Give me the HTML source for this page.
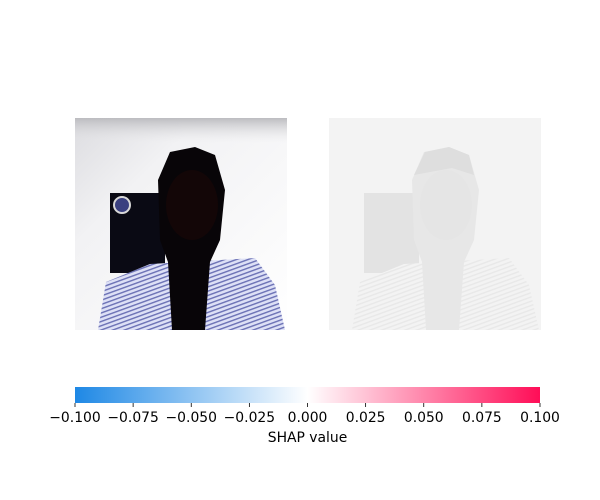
<!DOCTYPE html>
<html><head><meta charset="utf-8"><style>
body{margin:0;background:#fff;}
svg{display:block;font-family:"DejaVu Sans","Liberation Sans",sans-serif;}
</style></head><body>
<svg width="600" height="500" viewBox="0 0 600 500">
<defs>
<linearGradient id="wall" x1="0" y1="0" x2="1" y2="1">
<stop offset="0" stop-color="#dcdce0"/><stop offset="0.3" stop-color="#f2f2f4"/><stop offset="1" stop-color="#ffffff"/></linearGradient>
<linearGradient id="ceil" x1="0" y1="0" x2="0" y2="1">
<stop offset="0" stop-color="#bcbcc0"/><stop offset="1" stop-color="#e8e8ea" stop-opacity="0"/></linearGradient>
<pattern id="stripes" width="4" height="4" patternUnits="userSpaceOnUse" patternTransform="rotate(70)">
<rect width="4" height="4" fill="#dde0f6"/><rect width="1.4" height="4" fill="#6a70b4"/></pattern>
<pattern id="stripes2" width="4" height="4" patternUnits="userSpaceOnUse" patternTransform="rotate(70)">
<rect width="4" height="4" fill="#f3f3f3"/><rect width="1.4" height="4" fill="#e8e8e8"/></pattern>
<linearGradient id="cbar" x1="0" y1="0" x2="1" y2="0">
<stop offset="0" stop-color="#1E88E5"/><stop offset="0.5" stop-color="#ffffff"/><stop offset="1" stop-color="#FF0D57"/></linearGradient>
</defs>
<g>
<rect x="75" y="118" width="212" height="212" fill="url(#wall)"/>
<rect x="75" y="118" width="212" height="25" fill="url(#ceil)"/>
<rect x="110" y="193" width="55" height="80" fill="#0a0a14"/>
<circle cx="122" cy="205" r="8" fill="#3a4080" stroke="#d8d8d8" stroke-width="2"/>
<path d="M98 330 L106 282 L150 264 L255 258 L275 285 L285 330 Z" fill="url(#stripes)"/>
<path d="M172 330 L168 262 L160 240 L158 180 L170 152 L195 147 L215 155 L225 190 L220 240 L210 262 L205 330 Z" fill="#080508"/>
<ellipse cx="192" cy="205" rx="26" ry="35" fill="#130607"/>
</g>
<g>
<rect x="329" y="118" width="212" height="212" fill="#f3f3f3"/>
<rect x="364" y="193" width="55" height="80" fill="#e3e3e3"/>
<path d="M352 330 L360 282 L404 264 L509 258 L529 285 L539 330 Z" fill="url(#stripes2)"/>
<path d="M426 330 L422 262 L414 240 L412 180 L424 152 L449 147 L469 155 L479 190 L474 240 L464 262 L459 330 Z" fill="#e7e7e7"/>
<ellipse cx="446" cy="205" rx="26" ry="35" fill="#e5e5e5"/>
<path d="M414 175 L425 152 L449 147 L469 155 L474 175 L452 168 Z" fill="#dedede"/>
</g>
<g id="cb">
<rect x="75" y="387" width="465" height="16" fill="url(#cbar)"/>
</g>
<text x="307.5" y="442" font-size="13.9" text-anchor="middle" fill="#000">SHAP value</text>
</svg>
<script>
const tickValues=[-0.1,-0.075,-0.05,-0.025,0,0.025,0.05,0.075,0.1];
const tickLabels=["\u22120.100","\u22120.075","\u22120.050","\u22120.025","0.000","0.025","0.050","0.075","0.100"];
const vmin=-0.1, vmax=0.1;
const ns="http://www.w3.org/2000/svg";
const g=document.getElementById('cb');
function xScale(v){return 75+(v-vmin)/(vmax-vmin)*465;}
tickValues.forEach((v,i)=>{
  const x=xScale(v);
  const l=document.createElementNS(ns,'line');
  l.setAttribute('x1',x);l.setAttribute('x2',x);l.setAttribute('y1',403);l.setAttribute('y2',407);
  l.setAttribute('stroke','#000');l.setAttribute('stroke-width','0.8');
  
  
  g.appendChild(l);
  const t=document.createElementNS(ns,'text');
  t.setAttribute('x',x);t.setAttribute('y',422);t.setAttribute('font-size','13.9');
  t.setAttribute('text-anchor','middle');
  t.textContent=tickLabels[i];
  
  
  g.appendChild(t);
});
</script>
</body></html>
